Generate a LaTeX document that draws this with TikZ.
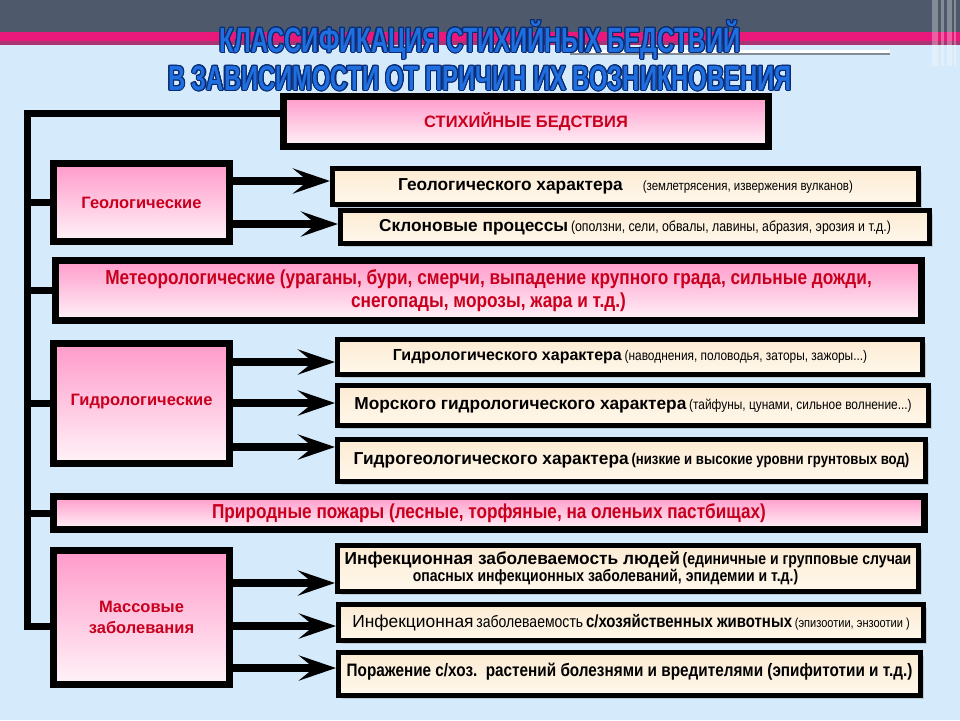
\documentclass[tikz,border=0pt]{standalone}
\usepackage{fontspec}
\setmainfont{Liberation Sans}
\newfontfamily\narrowfont[FakeStretch=0.85]{Liberation Sans}
\newfontfamily\titlefont[FakeStretch=0.68]{Liberation Sans}
\usepackage{contour}
\contourlength{1.1pt}
\usetikzlibrary{arrows.meta, shadings, shadows, positioning}

\definecolor{bgblue}{HTML}{D5EAFA}
\definecolor{bandgray}{HTML}{4E5A6B}
\definecolor{bandpink}{HTML}{E8197A}
\definecolor{titleblue}{HTML}{1F6FE0}
\definecolor{titleedge}{HTML}{0B2C73}
\definecolor{redtext}{HTML}{C8001E}
\definecolor{pinktop}{HTML}{FF9ACA}
\definecolor{pinkbot}{HTML}{FFF3F8}
\definecolor{creamtop}{HTML}{FCEBD3}
\definecolor{creambot}{HTML}{FFF8EC}

\tikzset{
  pinkbox/.style={draw=black, line width=7pt, top color=pinktop, bottom color=pinkbot,
    inner sep=0pt, align=center, text=redtext,
    font=\bfseries\fontsize{16.5}{21}\selectfont,
    drop shadow={opacity=0.3, shadow xshift=3pt, shadow yshift=-3pt}},
  creambox/.style={draw=black, line width=5pt, top color=creamtop, bottom color=creambot,
    inner sep=0pt, align=center,
    drop shadow={opacity=0.3, shadow xshift=3pt, shadow yshift=-3pt}},
  trunk/.style={line width=7pt},
  feed/.style={line width=8pt, -{Stealth[length=37pt, width=25pt, inset=15pt]}},
}
\newcommand{\bigpart}[1]{{\bfseries\fontsize{17.3}{20}\selectfont #1}}
\newcommand{\smallpart}[1]{{\narrowfont\fontsize{14}{16}\selectfont #1}}
\newcommand{\boldnarrow}[1]{{\narrowfont\bfseries\fontsize{16.5}{23}\selectfont #1}}

\begin{document}
\begin{tikzpicture}[x=1pt, y=-1pt]
  % --- 背景 ---
  \useasboundingbox (0,0) rectangle (960,720);
  \fill[bgblue] (0,0) rectangle (960,720);
  \fill[bandgray] (0,0) rectangle (960,32);
  \fill[bandpink] (0,32) rectangle (960,41);
  \fill[bandpink!60!bandgray] (0,41) rectangle (960,45);
  \fill[white] (570,50) rectangle (890,53);
  \fill[bandgray!70] (570,53) rectangle (890,55);
  \foreach \x/\w in {932/6, 941/3, 947/5, 954/2}
    \fill[white, opacity=0.3] (\x,0) rectangle (\x+\w,66);

  % --- 表題 ---
  \node[font=\titlefont\bfseries\fontsize{35}{38}\selectfont, text=titleblue, align=center]
    (title) at (480,56) {\contour{titleedge}{КЛАССИФИКАЦИЯ СТИХИЙНЫХ БЕДСТВИЙ}\\
      \contour{titleedge}{В ЗАВИСИМОСТИ ОТ ПРИЧИН ИХ ВОЗНИКНОВЕНИЯ}};

  % --- 左列 (分類) ---
  \node[pinkbox, minimum width=485, minimum height=50, font=\bfseries\fontsize{16.5}{18}\selectfont]
    (top) at (526,121.5) {\raisebox{-2pt}{СТИХИЙНЫЕ БЕДСТВИЯ}};
  \node[pinkbox, minimum width=176, minimum height=78] (geo) at (141.5,202.5) {Геологические};
  \node[pinkbox, minimum width=866, minimum height=60,
    font=\narrowfont\bfseries\fontsize{20.3}{23}\selectfont]
    (meteo) at (488.5,290.5) {Метеорологические (ураганы, бури, смерчи, выпадение крупного града, сильные дожди,\\
      снегопады, морозы, жара и т.д.)};
  \node[pinkbox, minimum width=176, minimum height=120] (hydro) at (141.5,403.5)
    {\raisebox{8pt}{Гидрологические}};
  \node[pinkbox, minimum width=871, minimum height=33,
    font=\narrowfont\bfseries\fontsize{20.2}{22}\selectfont]
    (fire) at (489,513) {Природные пожары (лесные, торфяные, на оленьих пастбищах)};
  \node[pinkbox, minimum width=176, minimum height=134] (mass) at (141.5,617.5)
    {Массовые\\заболевания};

  % --- 右列 (内容) ---
  \node[creambox, minimum width=586, minimum height=36] (gchar) at (625.5,186.5)
    {\raisebox{3pt}{\bigpart{Геологического характера}\hspace{20pt}{\narrowfont\fontsize{13.5}{16}\selectfont(землетрясения, извержения вулканов)}}};
  \node[creambox, minimum width=589, minimum height=33] (slope) at (635,227)
    {\raisebox{2pt}{\bigpart{Склоновые процессы} {\narrowfont\fontsize{14.5}{16}\selectfont(оползни, сели, обвалы, лавины, абразия, эрозия и т.д.)}}};
  \node[creambox, minimum width=585, minimum height=35] (hyd1) at (630,357)
    {\raisebox{2pt}{{\bfseries\fontsize{16}{19}\selectfont Гидрологического характера} \smallpart{(наводнения, половодья, заторы, зажоры...)}}};
  \node[creambox, minimum width=591, minimum height=40] (hyd2) at (633,405.5)
    {\raisebox{3pt}{\bigpart{Морского гидрологического характера} \smallpart{(тайфуны, цунами, сильное волнение...)}}};
  \node[creambox, minimum width=588, minimum height=42] (hyd3) at (631.5,460.5)
    {\raisebox{3pt}{\bigpart{Гидрогеологического характера} {\narrowfont\bfseries\fontsize{15.5}{18}\selectfont(низкие и высокие уровни грунтовых вод)}}};
  \node[creambox, minimum width=581, minimum height=46] (inf1) at (628,568.5)
    {\bigpart{Инфекционная заболеваемость людей} \boldnarrow{(единичные и групповые случаи}\\
      \boldnarrow{опасных инфекционных заболеваний, эпидемии и т.д.)}\hspace*{45pt}};
  \node[creambox, minimum width=585, minimum height=36] (inf2) at (631,622.5)
    {\raisebox{2pt}{{\fontsize{17.4}{19}\selectfont Инфекционная} {\narrowfont\fontsize{16.5}{19}\selectfont заболеваемость}
      {\narrowfont\bfseries\fontsize{17.6}{19}\selectfont с/хозяйственных животных} {\narrowfont\fontsize{13}{16}\selectfont(эпизоотии, энзоотии )}}};
  \node[creambox, minimum width=582, minimum height=43] (inf3) at (629.5,674)
    {\raisebox{8pt}{\narrowfont\bfseries\fontsize{18}{20}\selectfont Поражение с/хоз.\ \ растений болезнями и вредителями (эпифитотии и т.д.)}};

  % --- 幹線と枝 ---
  \coordinate (trunktop) at (27,113);
  \coordinate (trunkbot) at (27,626);
  \draw[trunk] (top.west |- trunktop) -- (trunktop) -- (trunkbot) -- (mass.west |- trunkbot);
  \foreach \n in {geo, meteo, hydro, fire}
    \draw[trunk] (trunktop |- \n.west) -- (\n.west);

  % --- 矢印 ---
  \foreach \src/\dst/\y in {geo/gchar/181, geo/slope/224, hydro/hyd1/362, hydro/hyd2/403,
      hydro/hyd3/447, mass/inf1/583, mass/inf2/626, mass/inf3/668}
    \draw[feed] (\src.east |- 0,\y) -- (\dst.west |- 0,\y);
\end{tikzpicture}
\end{document}
